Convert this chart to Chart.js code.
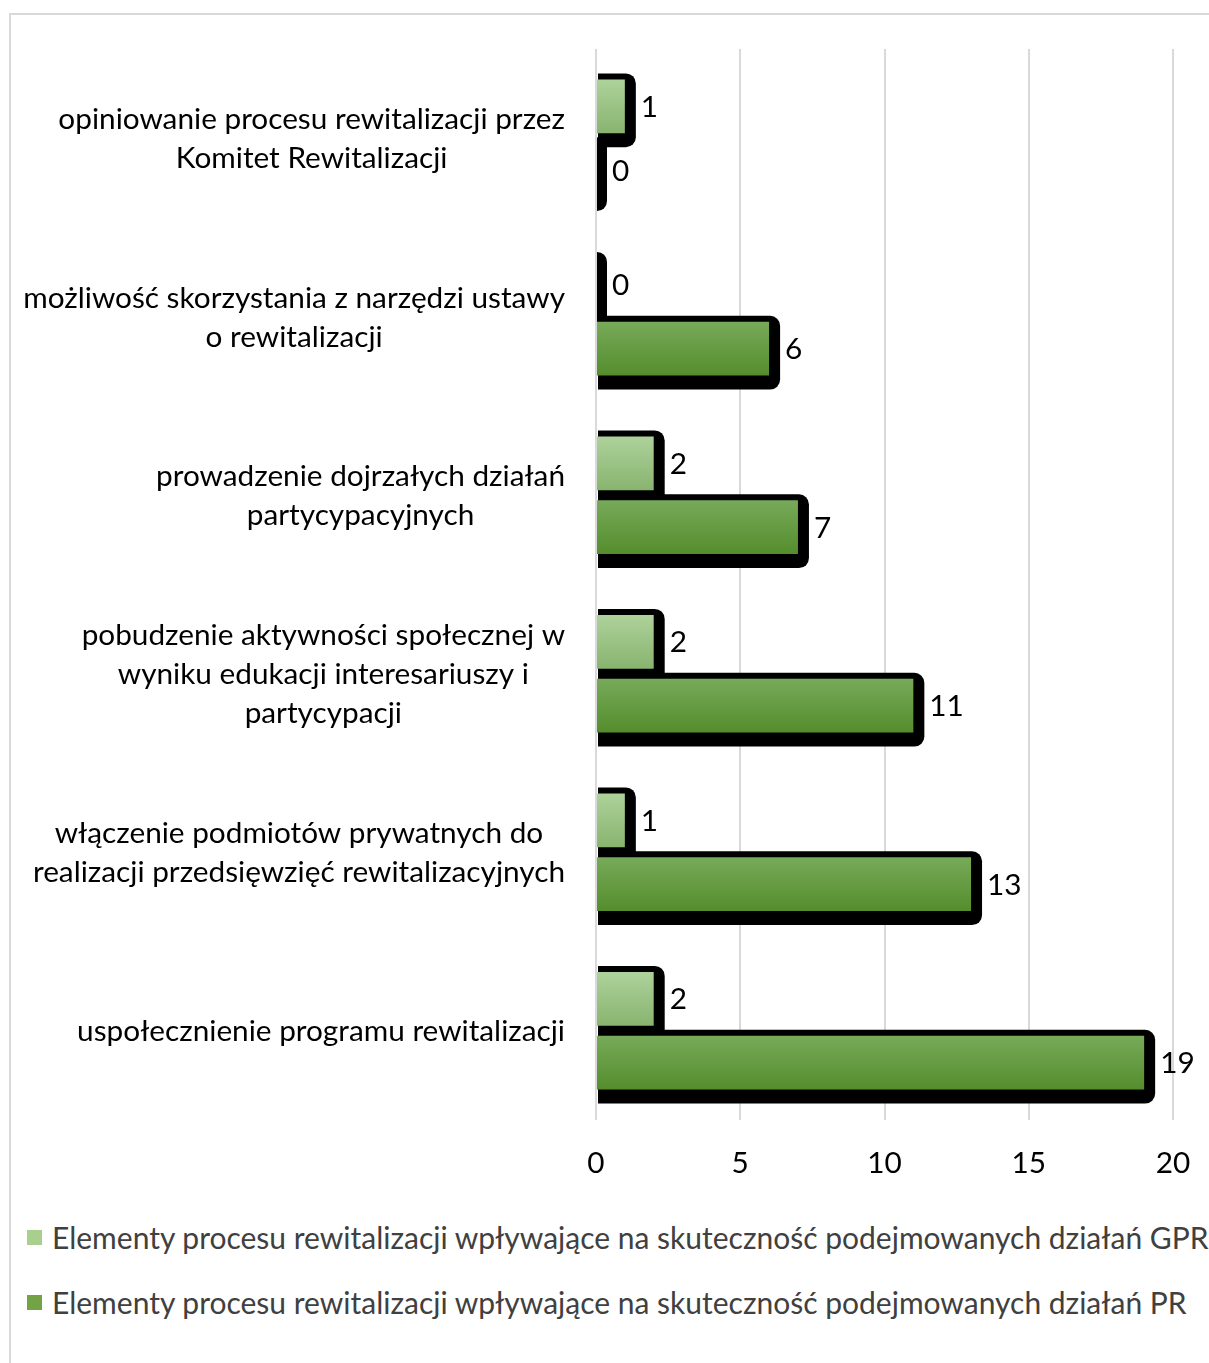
<!DOCTYPE html>
<html lang="pl">
<head>
<meta charset="utf-8">
<script src="https://cdn.jsdelivr.net/npm/chart.js@4.4.1/dist/chart.umd.min.js"></script>
<style>
  html, body { margin: 0; padding: 0; width: 1209px; height: 1363px; overflow: hidden; background: #fff; }
  .frame { position: absolute; left: 9px; top: 13px; width: 1300px; height: 1400px; border: 2px solid #d9d9d9; }
  .chart-box { position: absolute; left: 0; top: 0; width: 1209px; height: 1195px; }
  .legend-row { position: absolute; left: 27px; height: 64px; display: flex; align-items: center;
    font-family: Lato, sans-serif; color: #404040; white-space: nowrap; }
  .legend-box { width: 15px; height: 15px; margin-right: 10px; flex: none; }
</style>
</head>
<body>
<div class="frame"></div>
<div class="chart-box"><canvas id="chart"></canvas></div>
<div id="legend"></div>
<script>
const categories = [
  ['opiniowanie procesu rewitalizacji przez', 'Komitet Rewitalizacji'],
  ['możliwość skorzystania z narzędzi ustawy', 'o rewitalizacji'],
  ['prowadzenie dojrzałych działań', 'partycypacyjnych'],
  ['pobudzenie aktywności społecznej w', 'wyniku edukacji interesariuszy i', 'partycypacji'],
  ['włączenie podmiotów prywatnych do', 'realizacji przedsięwzięć rewitalizacyjnych'],
  ['uspołecznienie programu rewitalizacji'],
];

const seriesNames = [
  'Elementy procesu rewitalizacji wpływające na skuteczność podejmowanych działań GPR',
  'Elementy procesu rewitalizacji wpływające na skuteczność podejmowanych działań PR',
];

const gprValues = [1, 0, 2, 2, 1, 2];
const prValues = [0, 6, 7, 11, 13, 19];

const xTickValues = [0, 5, 10, 15, 20];

// top / bottom colours of each series gradient, plus legend swatch
const gradientColors = [
  ['#aed29b', '#88b46f'],
  ['#77aa59', '#558d2d'],
];
const swatchColors = ['#a9cf8f', '#72a446'];

const fontFamily = 'Lato';

// pick font sizes so the text takes the same width as in the original
const measureCtx = document.createElement('canvas').getContext('2d');
const fitSize = (text, targetWidth) => {
  measureCtx.font = `100px ${fontFamily}`;
  return Math.round((1000 * targetWidth) / measureCtx.measureText(text).width) / 10;
};
const labelSize = (fitSize('uspołecznienie programu rewitalizacji', 489)
  + fitSize('realizacji przedsięwzięć rewitalizacyjnych', 532)) / 2;
const legendSize = fitSize(seriesNames[1], 1136);

// black rounded backing (border + drop shadow look) and per-bar gradient
const barBacking = {
  id: 'barBacking',
  beforeDatasetsDraw(chart) {
    const { ctx } = chart;
    chart.data.datasets.forEach((ds, di) => {
      chart.getDatasetMeta(di).data.forEach((bar) => {
        const { x, y, base, height } = bar.getProps(['x', 'y', 'base', 'height'], true);
        const top = y - height / 2;
        ctx.save();
        ctx.fillStyle = '#000';
        ctx.beginPath();
        ctx.roundRect(base + 1, top - 6, x - base + 10, height + 20, [0, 10, 10, 0]);
        ctx.fill();
        ctx.restore();
        const grad = ctx.createLinearGradient(0, top, 0, top + height);
        grad.addColorStop(0, gradientColors[di][0]);
        grad.addColorStop(1, gradientColors[di][1]);
        bar.options = { ...bar.options, backgroundColor: grad };
      });
    });
  },
  afterDatasetsDraw(chart) {
    const { ctx } = chart;
    ctx.save();
    ctx.font = `${labelSize}px ${fontFamily}`;
    ctx.fillStyle = '#000';
    ctx.textAlign = 'left';
    ctx.textBaseline = 'middle';
    chart.data.datasets.forEach((ds, di) => {
      chart.getDatasetMeta(di).data.forEach((bar, i) => {
        const { x, y } = bar.getProps(['x', 'y'], true);
        ctx.fillText(String(ds.data[i]), x + 16, y + 1);
      });
    });
    ctx.restore();
  },
};

// category labels: block right-aligned next to the axis, lines centred inside it
const categoryLabels = {
  id: 'categoryLabels',
  afterDraw(chart) {
    const { ctx, chartArea, scales: { y } } = chart;
    const right = chartArea.left - 31;
    const lineGap = 39;
    ctx.save();
    ctx.font = `${labelSize}px ${fontFamily}`;
    ctx.fillStyle = '#000';
    ctx.textAlign = 'center';
    ctx.textBaseline = 'middle';
    categories.forEach((lines, i) => {
      const center = y.getPixelForTick(i);
      const widest = Math.max(...lines.map((l) => ctx.measureText(l).width));
      lines.forEach((line, j) => {
        ctx.fillText(line, right - widest / 2, center + (j - (lines.length - 1) / 2) * lineGap + 1);
      });
    });
    ctx.restore();
  },
};

const renderChart = () => {
  const canvas = document.querySelector('#chart');

  return new Chart(canvas, {
    type: 'bar',
    data: {
      labels: categories,
      datasets: [
        { label: seriesNames[0], data: gprValues, backgroundColor: swatchColors[0] },
        { label: seriesNames[1], data: prValues, backgroundColor: swatchColors[1] },
      ],
    },
    options: {
      indexAxis: 'y',
      responsive: true,
      maintainAspectRatio: false,
      animation: false,
      layout: { padding: { top: 49, right: 36, bottom: 0, left: 0 } },
      categoryPercentage: 0.717,
      barPercentage: 0.84,
      borderWidth: 0,
      scales: {
        x: {
          min: 0,
          max: 20,
          afterBuildTicks: (scale) => {
            scale.ticks = xTickValues.map((value) => ({ value }));
          },
          afterFit: (scale) => {
            scale.height = 75;
            scale.paddingLeft = 0;
            scale.paddingRight = 0;
          },
          grid: { color: '#d9d9d9', lineWidth: 2, drawTicks: false },
          border: { display: false },
          ticks: {
            padding: 26,
            color: '#000',
            font: { family: fontFamily, size: labelSize },
          },
        },
        y: {
          afterFit: (scale) => {
            scale.width = 596;
          },
          grid: { display: false },
          border: { display: false },
          ticks: { display: false },
        },
      },
      plugins: {
        legend: { display: false },
        tooltip: { enabled: false },
      },
    },
    plugins: [barBacking, categoryLabels],
  });
};

const renderLegend = () => {
  const legend = document.querySelector('#legend');
  const rowCenters = [1237, 1302];
  seriesNames.forEach((name, i) => {
    const row = document.createElement('div');
    row.className = 'legend-row';
    row.style.top = `${rowCenters[i] - 32}px`;
    row.style.fontSize = `${legendSize}px`;
    const box = document.createElement('span');
    box.className = 'legend-box';
    box.style.background = swatchColors[i];
    const text = document.createElement('span');
    text.textContent = name;
    row.append(box, text);
    legend.append(row);
  });
};

renderChart();
renderLegend();
</script>
</body>
</html>
